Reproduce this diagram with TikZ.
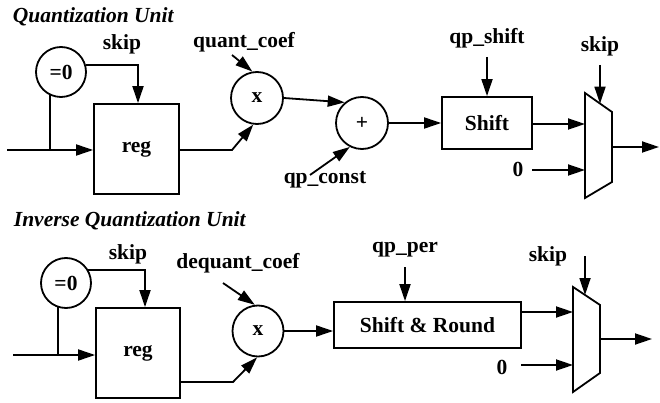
\documentclass[tikz,border=0pt]{standalone}
\usepackage{fontspec}
\setmainfont{Liberation Serif}
\usetikzlibrary{arrows.meta,calc}
\begin{document}
\begin{tikzpicture}[x=1pt,y=-1pt,line width=1.8pt,
  >={Triangle[length=17pt,width=11pt]},
  lbl/.style={font=\fontsize{21.5}{24}\selectfont\bfseries,inner sep=0pt},
  ttl/.style={font=\fontsize{21.5}{24}\selectfont\bfseries\itshape,inner sep=0pt,anchor=base west},
  circ/.style={draw,circle,lbl,minimum size=50pt},
  blk/.style={draw,rectangle,lbl},
  wire/.style={line width=1.8pt},
  sig/.style={wire,->}]
\useasboundingbox (0,0) rectangle (660,403);

% ---------------- Quantization unit ----------------
\node[ttl] (t1) at (12,22.5) {Quantization Unit};
\node[circ] (eq1) at (61,72) {=0};
\node[blk,minimum width=85pt,minimum height=90pt] (reg1) at (136.5,149) {reg};
\node[circ,minimum size=52pt] (mul1) at (257,98) {x};
\node[circ,minimum size=52pt] (add1) at (362,123) {+};
\node[blk,minimum width=90pt,minimum height=52pt] (sh1) at (487,123) {Shift};
\node[lbl] (skA) at (122,44.5) {skip};
\node[lbl] (qc) at (244,42) {quant\_coef};
\node[lbl] (qk) at (325,179.5) {qp\_const};
\node[lbl] (qs) at (487,38.5) {qp\_shift};
\node[lbl] (zA) at (518,169.5) {0};
\node[lbl] (skB) at (600,46.5) {skip};

% output multiplexer
\draw (585,93) -- (612,112) -- (612,182) -- (585,198) -- cycle;
\coordinate (mxAin1) at (585,124);
\coordinate (mxAin2) at (585,170);
\coordinate (mxAsel) at (600,103.6);
\coordinate (mxAout) at (612,147);

\coordinate (inA) at (7,150);
\coordinate (brA) at (50,150);
\draw[sig] (inA) -- (inA -| reg1.west);
\draw[wire] (brA) -- (brA |- eq1.242);
\draw[sig] (eq1.15) -| ([xshift=1.5pt]reg1.north);
\coordinate (kA) at (232,150);
\draw[sig] (reg1.east |- kA) -- (kA) -- (mul1.262);
\coordinate (qcs) at (232,55);
\draw[sig] (qcs) -- (mul1.100);
\draw[sig] (mul1.east) -- (add1.130);
\coordinate (qks) at (310,175);
\draw[sig] (qks) -- (add1.243);
\draw[sig] (add1.east) -- (sh1.west);
\coordinate (qss) at (487,57);
\draw[sig] (qss) -- (sh1.north);
\draw[sig] (sh1.east |- mxAin1) -- (mxAin1);
\coordinate (zAs) at (532,170);
\draw[sig] (zAs) -- (mxAin2);
\coordinate (skBs) at (600,65);
\draw[sig] (skBs) -- (mxAsel);
\coordinate (outA) at (659,147);
\draw[sig] (mxAout) -- (outA);

% ---------------- Inverse quantization unit ----------------
\node[ttl] (t2) at (13,226.5) {Inverse Quantization Unit};
\node[circ] (eq2) at (66,283) {=0};
\node[blk,minimum width=84pt,minimum height=90pt] (reg2) at (138,353) {reg};
\node[circ,minimum size=51pt] (mul2) at (258,331) {x};
\node[blk,minimum width=187pt,minimum height=46pt] (sr) at (427.5,325) {Shift \& Round};
\node[lbl] (skC) at (128,254.5) {skip};
\node[lbl] (dqc) at (238,263.5) {dequant\_coef};
\node[lbl] (qp) at (405,250) {qp\_per};
\node[lbl] (skD) at (548,256) {skip};
\node[lbl] (zB) at (502,367.5) {0};

% output multiplexer
\draw (573,287) -- (600,305) -- (600,373) -- (573,392) -- cycle;
\coordinate (mxBin1) at (573,312);
\coordinate (mxBin2) at (573,365);
\coordinate (mxBsel) at (585,295);
\coordinate (mxBout) at (600,339);

\coordinate (inB) at (13,355);
\coordinate (brB) at (58,355);
\draw[sig] (inB) -- (inB -| reg2.west);
\draw[wire] (brB) -- (brB |- eq2.251);
\draw[sig] (eq2.31) -| ([xshift=7pt]reg2.north);
\coordinate (kB) at (233,382);
\draw[sig] (reg2.east |- kB) -- (kB) -- (mul2.268);
\coordinate (dqs) at (223,283);
\draw[sig] (dqs) -- (mul2.97);
\draw[sig] (mul2.east) -- (mul2.east -| sr.west);
\coordinate (qps) at (405,267);
\draw[sig] (qps) -- (qps |- sr.north);
\draw[sig] (sr.east |- mxBin1) -- (mxBin1);
\coordinate (zBs) at (521,365);
\draw[sig] (zBs) -- (mxBin2);
\coordinate (skDs) at (585,256);
\draw[sig] (skDs) -- (mxBsel);
\coordinate (outB) at (652,339);
\draw[sig] (mxBout) -- (outB);
\end{tikzpicture}
\end{document}
